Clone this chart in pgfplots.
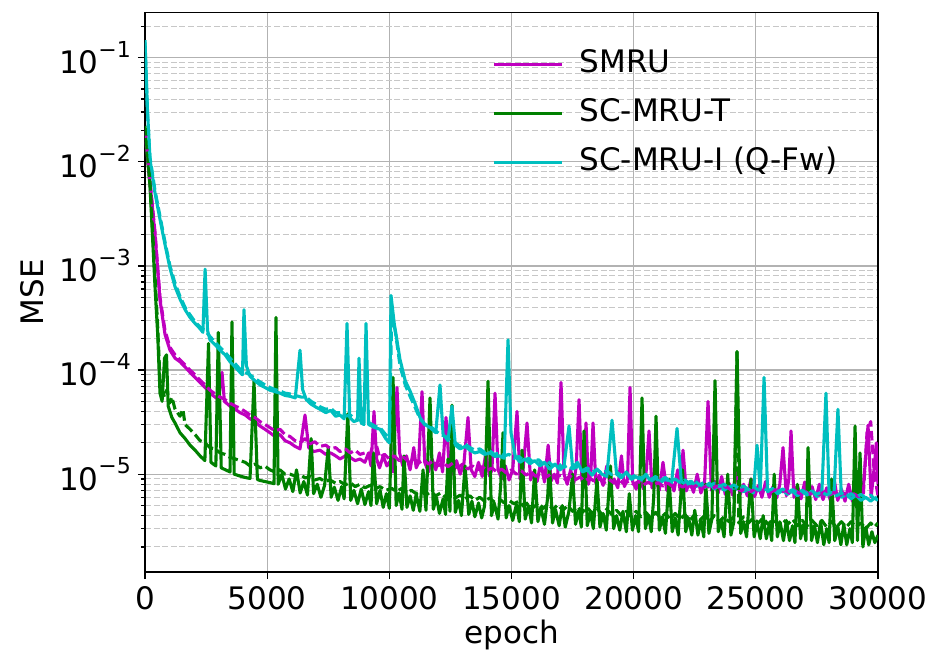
\documentclass[border=0pt]{standalone}
\usepackage{fontspec}
\setmainfont{DejaVu Sans}
\usepackage{pgfplots}
\pgfplotsset{compat=1.18}
\definecolor{mplm}{rgb}{0.75,0,0.75}
\definecolor{mplg}{rgb}{0,0.5,0}
\definecolor{mplc}{rgb}{0,0.75,0.75}
\newcommand\fs{\fontsize{15.5}{18}\selectfont}
\newcommand\tenexp[1]{10\raisebox{0.95ex}{\fontsize{11}{11}\selectfont −#1}}
\begin{document}
\begin{tikzpicture}
\useasboundingbox (-72.5pt,-39.5pt) rectangle (392.5pt,286pt);
\begin{axis}[
  at={(0,0)}, anchor=south west,
  scale only axis, width=366.5pt, height=279.65pt,
  ymode=log, xmin=0, xmax=30000, ymin=1.15e-6, ymax=0.27,
  scaled x ticks=false,
  xtick={0,5000,10000,15000,20000,25000,30000},
  xticklabels={0,5000,10000,15000,20000,25000,30000},
  ytick={1e-5,1e-4,1e-3,1e-2,1e-1},
  yticklabels={\tenexp{5},\tenexp{4},\tenexp{3},\tenexp{2},\tenexp{1}},
  minor ytick={2e-6,3e-6,4e-6,5e-6,6e-6,7e-6,8e-6,9e-6,2e-5,3e-5,4e-5,5e-5,6e-5,7e-5,8e-5,9e-5,2e-4,3e-4,4e-4,5e-4,6e-4,7e-4,8e-4,9e-4,2e-3,3e-3,4e-3,5e-3,6e-3,7e-3,8e-3,9e-3,2e-2,3e-2,4e-2,5e-2,6e-2,7e-2,8e-2,9e-2,2e-1},
  tick align=outside, tick pos=left,
  major tick length=3.5pt, minor tick length=2pt,
  every tick/.style={black, line width=0.6pt},
  xmajorgrids, ymajorgrids, yminorgrids,
  major grid style={line width=0.6pt, color=black!30},
  minor grid style={line width=0.5pt, color=black!22, dash pattern=on 3pt off 1.3pt},
  axis line style={line width=0.8pt, black},
  tick label style={font=\fs},
  label style={font=\fs},
  xlabel={epoch}, ylabel={MSE},
  xlabel style={at={(axis description cs:0.5,-0.127)}, anchor=base},
  ylabel style={at={(axis description cs:-0.154,0.5)}, anchor=center, rotate=0},
  legend style={draw=none, fill=none, at={(axis description cs:0.465,0.947)}, anchor=north west,
    font=\fs, row sep=6.5pt, nodes={text height=11pt, text depth=3pt, inner sep=2pt},
    /tikz/every odd column/.append style={column sep=6pt}},
  legend cell align=left,
  legend image code/.code={\draw[#1, line width=1.7pt, solid] (0pt,0pt) -- (34pt,0pt);},
  every axis plot/.append style={line width=1.55pt, line join=round},
]
% SMRU solid
\addplot[mplm] coordinates {(0,2.0e-2)(205,6.3e-3)(410,2.0e-3)(614,4.7e-4)(819,2.2e-4)(1023,1.55e-4)(1230,1.3e-4)(1433,1.2e-4)(1640,1.07e-4)(1842,9.5e-5)(2050,8.5e-5)(2251,7.6e-5)(2460,6.8e-5)(2660,6.0e-5)(2870,5.5e-5)(3000,5.2e-5)(3152,9.5e-5)(3250,5.0e-5)(3479,4.5e-5)(3700,4.2e-5)(3888,3.9e-5)(4100,3.7e-5)(4298,3.4e-5)(4500,3.2e-5)(4707,2.9e-5)(4910,2.7e-5)(5116,2.5e-5)(5320,2.3e-5)(5526,2.4e-5)(5730,2.1e-5)(5935,2.0e-5)(6140,1.85e-5)(6344,1.75e-5)(6549,3.7e-5)(6700,1.8e-5)(6900,1.65e-5)(7163,1.7e-5)(7400,1.55e-5)(7600,1.6e-5)(7800,1.5e-5)(7981,1.4e-5)(8200,1.5e-5)(8390,1.45e-5)(8600,1.35e-5)(8800,1.4e-5)(9000,1.3e-5)(9150,1.6e-5)(9250,1.2e-5)(9373,4.0e-5)(9480,1.4e-5)(9600,1.15e-5)(9750,1.5e-5)(9900,1.2e-5)(10050,1.35e-5)(10150,1.05e-5)(10314,6.8e-5)(10420,1.6e-5)(10550,1.2e-5)(10700,1.5e-5)(10850,1.1e-5)(11000,1.8e-5)(11100,1.15e-5)(11200,1.3e-5)(11338,6.2e-5)(11450,1.3e-5)(11600,1.05e-5)(11750,1.4e-5)(11900,1.1e-5)(12050,1.6e-5)(12180,1.05e-5)(12320,3.5e-5)(12450,1.2e-5)(12600,1.0e-5)(12750,1.35e-5)(12900,1.0e-5)(13050,1.25e-5)(13220,3.5e-5)(13350,1.1e-5)(13500,9.5e-6)(13650,1.3e-5)(13800,9.5e-6)(13950,1.6e-5)(14100,9.6e-6)(14200,1.1e-5)(14326,6.0e-5)(14450,1.1e-5)(14600,9.0e-6)(14750,1.2e-5)(14900,8.8e-6)(15050,1.1e-5)(15226,4.0e-5)(15350,9.0e-6)(15480,1.15e-5)(15635,3.1e-5)(15780,8.8e-6)(15900,1.05e-5)(16050,8.5e-6)(16200,1.3e-5)(16350,8.4e-6)(16500,1.9e-5)(16620,8.6e-6)(16750,1.0e-5)(16880,8.2e-6)(17027,7.6e-5)(17150,1.0e-5)(17280,8.0e-6)(17420,1.1e-5)(17550,8.2e-6)(17650,1.2e-5)(17764,5.2e-5)(17880,8.6e-6)(17960,1.0e-5)(18050,3.1e-5)(18150,8.0e-6)(18250,1.05e-5)(18337,3.1e-5)(18450,8.2e-6)(18600,9.8e-6)(18750,7.8e-6)(18900,1.2e-5)(19050,7.6e-6)(19200,9.0e-6)(19350,7.4e-6)(19500,1.5e-5)(19620,7.6e-6)(19750,9.0e-6)(19851,6.8e-5)(19960,8.5e-6)(20100,7.2e-6)(20250,9.5e-6)(20400,7.2e-6)(20520,1.1e-5)(20629,2.6e-5)(20750,7.4e-6)(20900,8.8e-6)(21050,7.0e-6)(21200,1.3e-5)(21350,7.0e-6)(21500,8.8e-6)(21650,6.9e-6)(21800,1.1e-5)(21900,7.0e-6)(22020,1.7e-5)(22150,6.9e-6)(22300,8.5e-6)(22450,6.7e-6)(22600,1.0e-5)(22750,6.6e-6)(22900,8.0e-6)(23044,5.0e-5)(23180,7.0e-6)(23300,8.6e-6)(23450,6.5e-6)(23600,9.5e-6)(23750,6.4e-6)(23900,8.2e-6)(24050,6.3e-6)(24200,1.1e-5)(24350,6.3e-6)(24500,8.0e-6)(24650,6.2e-6)(24800,9.0e-6)(24950,6.1e-6)(25100,7.8e-6)(25250,6.0e-6)(25400,8.5e-6)(25550,6.0e-6)(25700,7.6e-6)(25850,5.9e-6)(25980,8.0e-6)(26113,1.8e-5)(26250,6.2e-6)(26350,9.0e-6)(26441,2.6e-5)(26560,6.0e-6)(26700,7.8e-6)(26850,5.8e-6)(27000,8.4e-6)(27150,5.8e-6)(27300,7.6e-6)(27450,5.7e-6)(27600,8.0e-6)(27750,5.7e-6)(27900,7.4e-6)(28050,5.6e-6)(28200,9.0e-6)(28350,5.6e-6)(28500,7.2e-6)(28650,5.5e-6)(28800,8.0e-6)(28950,5.5e-6)(29100,7.0e-6)(29250,5.4e-6)(29400,7.5e-6)(29592,2.95e-5)(29720,6.0e-6)(29850,1.2e-5)(29930,2.0e-5)(30000,8.0e-6)};
\addlegendentry{SMRU}
% SC-MRU-T solid
\addplot[mplg] coordinates {(0,2.0e-2)(205,5.8e-3)(410,6.3e-4)(520,2.2e-4)(614,6.0e-5)(700,5.0e-5)(800,1.3e-4)(880,1.4e-4)(950,4.5e-5)(1100,3.5e-5)(1230,3.1e-5)(1433,2.5e-5)(1640,2.2e-5)(1842,1.9e-5)(2050,1.7e-5)(2251,1.5e-5)(2450,1.35e-5)(2600,1.8e-4)(2700,1.3e-5)(2900,1.2e-5)(3000,2.3e-4)(3120,1.15e-5)(3300,1.1e-5)(3479,1.05e-5)(3560,2.9e-4)(3650,1.0e-5)(3888,9.6e-6)(4100,9.3e-6)(4298,9.1e-6)(4461,7.8e-5)(4600,8.9e-6)(4707,8.7e-6)(4910,8.5e-6)(5116,8.3e-6)(5280,8.1e-6)(5360,3.2e-4)(5450,8.0e-6)(5600,1.0e-5)(5750,7.2e-6)(5900,9.0e-6)(6050,6.8e-6)(6200,1.1e-5)(6350,6.6e-6)(6500,8.5e-6)(6650,6.3e-6)(6800,2.2e-5)(6900,6.5e-6)(7050,8.0e-6)(7200,6.0e-6)(7350,7.8e-6)(7500,1.8e-5)(7620,6.0e-6)(7750,7.5e-6)(7900,5.6e-6)(8050,7.6e-6)(8150,5.8e-6)(8300,3.8e-5)(8420,5.6e-6)(8550,7.0e-6)(8700,5.2e-6)(8850,7.2e-6)(9000,5.1e-6)(9150,6.8e-6)(9250,5.0e-6)(9350,1.6e-5)(9480,5.2e-6)(9620,7.0e-6)(9750,4.8e-6)(9880,6.5e-6)(10000,4.7e-6)(10151,8.5e-5)(10280,5.0e-6)(10400,6.6e-6)(10520,4.6e-6)(10600,1.5e-5)(10720,4.8e-6)(10850,6.2e-6)(10980,4.5e-6)(11100,6.4e-6)(11250,4.4e-6)(11380,1.1e-5)(11500,4.5e-6)(11665,5.4e-5)(11800,4.6e-6)(11930,6.0e-6)(12050,4.2e-6)(12200,5.8e-6)(12300,4.1e-6)(12400,1.4e-5)(12480,4.4e-6)(12565,4.6e-5)(12700,4.3e-6)(12830,5.6e-6)(12950,4.0e-6)(13100,1.2e-5)(13250,4.1e-6)(13380,5.5e-6)(13500,3.9e-6)(13650,5.3e-6)(13780,3.8e-6)(13900,5.0e-6)(14039,7.8e-5)(14180,4.0e-6)(14300,5.2e-6)(14450,3.7e-6)(14560,8.0e-6)(14653,2.5e-5)(14780,3.8e-6)(14900,5.0e-6)(15050,3.6e-6)(15200,5.1e-6)(15320,3.5e-6)(15431,1.7e-5)(15560,3.7e-6)(15700,5.0e-6)(15820,3.4e-6)(15950,1.1e-5)(16080,3.5e-6)(16200,4.8e-6)(16350,3.3e-6)(16480,6.0e-6)(16550,1.3e-5)(16680,3.4e-6)(16800,4.6e-6)(16950,3.2e-6)(17080,5.0e-6)(17200,3.1e-6)(17350,4.4e-6)(17500,1.0e-5)(17620,3.3e-6)(17750,4.5e-6)(17860,3.1e-6)(17969,2.6e-5)(18100,3.2e-6)(18230,4.3e-6)(18350,3.0e-6)(18500,9.0e-6)(18620,3.1e-6)(18750,4.2e-6)(18880,2.9e-6)(19050,1.2e-5)(19180,3.0e-6)(19300,4.0e-6)(19430,2.9e-6)(19560,4.4e-6)(19700,2.8e-6)(19820,6.5e-6)(19950,2.9e-6)(20080,4.0e-6)(20200,2.8e-6)(20342,5.4e-5)(20480,3.0e-6)(20600,4.0e-6)(20720,2.8e-6)(20820,6.0e-6)(20915,3.6e-5)(21050,2.9e-6)(21180,3.9e-6)(21300,2.7e-6)(21450,9.0e-6)(21580,2.8e-6)(21700,3.8e-6)(21820,2.6e-6)(22000,1.1e-5)(22130,2.8e-6)(22250,3.8e-6)(22380,2.6e-6)(22500,4.5e-6)(22630,2.6e-6)(22750,3.6e-6)(22870,2.5e-6)(22950,8.0e-6)(23080,2.7e-6)(23200,3.7e-6)(23330,7.9e-5)(23460,2.8e-6)(23580,3.6e-6)(23700,2.5e-6)(23850,1.0e-5)(23980,2.6e-6)(24100,3.5e-6)(24231,1.5e-4)(24380,2.7e-6)(24500,3.5e-6)(24620,2.5e-6)(24800,9.0e-6)(24930,2.5e-6)(25050,3.4e-6)(25180,2.4e-6)(25300,4.0e-6)(25430,2.4e-6)(25550,3.3e-6)(25650,2.3e-6)(25750,1.0e-5)(25880,2.5e-6)(26000,3.4e-6)(26130,2.3e-6)(26250,3.6e-6)(26380,2.3e-6)(26500,3.2e-6)(26600,2.2e-6)(26700,8.0e-6)(26830,2.4e-6)(26950,3.3e-6)(27050,2.3e-6)(27137,1.8e-5)(27280,2.3e-6)(27400,3.2e-6)(27520,2.2e-6)(27650,3.5e-6)(27780,2.1e-6)(27900,3.0e-6)(28000,2.2e-6)(28100,9.0e-6)(28230,2.3e-6)(28350,3.2e-6)(28480,2.1e-6)(28600,3.3e-6)(28720,2.1e-6)(28850,3.0e-6)(28950,2.2e-6)(29061,2.9e-5)(29160,2.3e-6)(29265,1.6e-5)(29380,2.0e-6)(29500,3.1e-6)(29620,2.1e-6)(29750,2.8e-6)(29870,2.2e-6)(30000,2.6e-6)};
\addlegendentry{SC-MRU-T}
% SC-MRU-I solid
\addplot[mplc] coordinates {(0,1.47e-1)(100,3.2e-2)(205,1.05e-2)(410,5.0e-3)(614,2.8e-3)(819,1.6e-3)(1023,9.5e-4)(1230,6.3e-4)(1433,4.8e-4)(1640,3.8e-4)(1842,3.2e-4)(2050,2.8e-4)(2251,2.5e-4)(2370,2.3e-4)(2460,9.3e-4)(2560,2.4e-4)(2660,1.95e-4)(2870,1.75e-4)(3070,1.55e-4)(3280,1.4e-4)(3480,1.2e-4)(3690,1.07e-4)(3888,9.5e-5)(3990,9.0e-5)(4050,3.8e-4)(4150,1.1e-4)(4298,8.7e-5)(4500,7.9e-5)(4707,7.2e-5)(4910,6.8e-5)(5116,6.4e-5)(5320,6.2e-5)(5526,6.0e-5)(5730,5.7e-5)(5935,5.6e-5)(6150,5.4e-5)(6344,1.55e-4)(6450,6.5e-5)(6600,5.2e-5)(6800,4.7e-5)(7000,4.4e-5)(7163,4.2e-5)(7400,3.9e-5)(7600,4.1e-5)(7800,3.6e-5)(7981,3.7e-5)(8150,3.4e-5)(8268,2.8e-4)(8380,3.5e-5)(8550,3.2e-5)(8700,3.3e-5)(8759,1.3e-4)(8850,3.1e-5)(8960,3.0e-5)(9046,2.8e-4)(9150,3.0e-5)(9400,2.8e-5)(9619,2.7e-5)(9850,2.2e-5)(10000,2.0e-5)(10069,5.2e-4)(10200,2.8e-4)(10437,1.26e-4)(10650,7.9e-5)(10846,6.3e-5)(11050,4.8e-5)(11256,3.5e-5)(11450,3.0e-5)(11665,2.8e-5)(11900,2.5e-5)(12074,7.2e-5)(12200,2.4e-5)(12400,2.1e-5)(12565,4.5e-5)(12700,1.9e-5)(12893,1.75e-5)(13100,1.85e-5)(13300,1.7e-5)(13500,1.6e-5)(13712,1.65e-5)(13900,1.55e-5)(14120,1.6e-5)(14325,1.48e-5)(14500,1.5e-5)(14700,1.42e-5)(14858,1.95e-4)(14980,2.5e-5)(15150,1.5e-5)(15349,1.3e-5)(15550,1.4e-5)(15760,1.26e-5)(15950,1.35e-5)(16167,1.2e-5)(16350,1.3e-5)(16570,1.12e-5)(16780,1.25e-5)(16986,1.1e-5)(17150,1.2e-5)(17354,2.9e-5)(17500,1.15e-5)(17700,1.3e-5)(17900,1.05e-5)(18100,1.1e-5)(18300,9.8e-6)(18500,1.12e-5)(18700,1.0e-5)(18900,9.5e-6)(19114,3.3e-5)(19300,1.0e-5)(19500,9.2e-6)(19700,1.05e-5)(19900,8.9e-6)(20100,9.5e-6)(20300,8.7e-6)(20500,1.0e-5)(20700,8.5e-6)(20900,9.2e-6)(21100,8.3e-6)(21300,9.0e-6)(21550,8.2e-6)(21775,2.75e-5)(21950,8.5e-6)(22150,7.9e-6)(22350,8.6e-6)(22550,7.6e-6)(22716,8.0e-6)(22900,7.4e-6)(23100,8.2e-6)(23300,7.2e-6)(23500,7.8e-6)(23700,7.0e-6)(23900,7.6e-6)(24100,6.9e-6)(24300,7.5e-6)(24500,6.8e-6)(24700,7.2e-6)(24900,6.6e-6)(25049,1.9e-5)(25180,7.0e-6)(25336,8.5e-5)(25480,6.8e-6)(25700,7.2e-6)(25900,6.5e-6)(26100,7.0e-6)(26300,6.4e-6)(26500,6.9e-6)(26700,6.2e-6)(26900,6.8e-6)(27100,6.3e-6)(27300,6.9e-6)(27500,6.1e-6)(27700,6.5e-6)(27870,6.0e-5)(28000,6.3e-6)(28200,6.6e-6)(28360,4.2e-5)(28500,6.0e-6)(28700,6.4e-6)(28900,5.8e-6)(29100,6.3e-6)(29300,5.6e-6)(29500,6.0e-6)(29700,5.5e-6)(29850,5.9e-6)(30000,5.6e-6)};
\addlegendentry{SC-MRU-I (Q-Fw)}
% dashed companions
\addplot[mplm, dash pattern=on 4.8pt off 2.1pt, forget plot] coordinates {(0,2.1e-2)(205,6.5e-3)(410,2.1e-3)(614,5.0e-4)(819,2.4e-4)(1023,1.65e-4)(1230,1.4e-4)(1433,1.25e-4)(1640,1.12e-4)(1842,1.0e-4)(2050,9.0e-5)(2251,8.0e-5)(2460,7.2e-5)(2660,6.4e-5)(2870,5.9e-5)(3070,5.5e-5)(3280,5.2e-5)(3479,4.8e-5)(3700,4.5e-5)(3888,4.3e-5)(4100,4.0e-5)(4298,3.7e-5)(4500,3.5e-5)(4707,3.2e-5)(4910,3.0e-5)(5116,2.8e-5)(5320,2.6e-5)(5526,2.7e-5)(5730,2.4e-5)(5935,2.3e-5)(6140,2.1e-5)(6344,2.0e-5)(6549,2.2e-5)(6750,1.95e-5)(6950,2.05e-5)(7163,1.85e-5)(7400,1.9e-5)(7600,1.75e-5)(7800,1.8e-5)(7981,1.65e-5)(8200,1.75e-5)(8400,1.6e-5)(8600,1.7e-5)(8800,1.55e-5)(9000,1.6e-5)(9200,1.5e-5)(9400,2.2e-5)(9600,1.45e-5)(9800,1.55e-5)(10000,1.4e-5)(10200,1.5e-5)(10400,1.35e-5)(10600,1.45e-5)(10800,1.3e-5)(11000,1.4e-5)(11200,1.28e-5)(11400,1.38e-5)(11600,1.25e-5)(11800,1.35e-5)(12000,1.2e-5)(12200,1.3e-5)(12400,1.18e-5)(12600,1.28e-5)(12800,1.15e-5)(13000,1.25e-5)(13200,1.12e-5)(13400,1.2e-5)(13600,1.1e-5)(13800,1.18e-5)(14000,1.08e-5)(14200,1.15e-5)(14400,1.05e-5)(14600,1.12e-5)(14800,1.02e-5)(15000,1.1e-5)(15200,1.0e-5)(15400,1.08e-5)(15600,9.8e-6)(15800,1.05e-5)(16000,9.5e-6)(16200,1.03e-5)(16400,9.3e-6)(16600,1.0e-5)(16800,9.1e-6)(17000,9.8e-6)(17200,8.9e-6)(17400,9.6e-6)(17600,8.8e-6)(17800,9.4e-6)(18000,8.6e-6)(18200,9.2e-6)(18400,8.5e-6)(18600,9.0e-6)(18800,8.3e-6)(19000,8.9e-6)(19200,8.2e-6)(19400,8.8e-6)(19600,8.1e-6)(19800,8.6e-6)(20000,8.0e-6)(20200,8.5e-6)(20400,7.9e-6)(20600,8.4e-6)(20800,7.8e-6)(21000,8.3e-6)(21200,7.7e-6)(21400,8.2e-6)(21600,7.6e-6)(21800,8.1e-6)(22000,7.5e-6)(22200,8.0e-6)(22400,7.4e-6)(22600,7.9e-6)(22800,7.3e-6)(23000,7.8e-6)(23200,7.2e-6)(23400,7.7e-6)(23600,7.1e-6)(23800,7.6e-6)(24000,7.0e-6)(24200,7.5e-6)(24400,6.9e-6)(24600,7.4e-6)(24800,6.8e-6)(25000,7.3e-6)(25200,6.8e-6)(25400,7.2e-6)(25600,6.7e-6)(25800,7.1e-6)(26000,6.6e-6)(26200,7.0e-6)(26400,6.5e-6)(26600,7.0e-6)(26800,6.5e-6)(27000,6.9e-6)(27200,6.4e-6)(27400,6.8e-6)(27600,6.3e-6)(27800,6.8e-6)(28000,6.3e-6)(28200,6.7e-6)(28400,6.2e-6)(28600,6.6e-6)(28800,6.1e-6)(29000,6.5e-6)(29200,6.1e-6)(29400,6.4e-6)(29550,2.5e-5)(29700,3.2e-5)(29850,1.0e-5)(30000,6.2e-6)};
\addplot[mplg, dash pattern=on 4.8pt off 2.1pt, forget plot] coordinates {(0,2.2e-2)(205,6.5e-3)(410,8e-4)(520,2.6e-4)(614,8.0e-5)(700,6.5e-5)(800,5.5e-5)(900,6.5e-5)(1000,4.8e-5)(1100,5.5e-5)(1230,4.2e-5)(1433,3.6e-5)(1550,4.2e-5)(1640,3.0e-5)(1842,2.7e-5)(2050,2.4e-5)(2251,2.1e-5)(2450,2.0e-5)(2660,1.8e-5)(2870,1.75e-5)(3070,1.6e-5)(3280,1.55e-5)(3479,1.45e-5)(3700,1.4e-5)(3888,1.35e-5)(4100,1.3e-5)(4300,1.2e-5)(4500,1.25e-5)(4707,1.15e-5)(4900,1.2e-5)(5116,1.1e-5)(5320,1.05e-5)(5526,1.1e-5)(5730,1.0e-5)(5935,1.0e-5)(6150,9.6e-6)(6344,1.0e-5)(6550,9.2e-6)(6750,9.5e-6)(6950,8.8e-6)(7163,9.1e-6)(7350,8.5e-6)(7570,8.8e-6)(7800,8.2e-6)(7981,8.5e-6)(8200,7.9e-6)(8400,8.3e-6)(8600,7.6e-6)(8800,8.0e-6)(9000,7.4e-6)(9200,7.8e-6)(9400,7.2e-6)(9619,7.6e-6)(9850,7.0e-6)(10100,7.3e-6)(10300,6.8e-6)(10500,7.3e-6)(10700,6.6e-6)(10900,7.0e-6)(11100,6.5e-6)(11300,6.9e-6)(11500,6.3e-6)(11700,6.8e-6)(11900,6.2e-6)(12100,6.6e-6)(12300,6.0e-6)(12500,6.5e-6)(12700,5.9e-6)(12900,6.3e-6)(13100,5.8e-6)(13300,6.2e-6)(13500,5.6e-6)(13700,6.0e-6)(13900,5.5e-6)(14100,5.9e-6)(14300,5.4e-6)(14500,5.8e-6)(14700,5.3e-6)(14900,5.6e-6)(15100,5.2e-6)(15300,5.5e-6)(15500,4.9e-6)(15700,5.4e-6)(15900,4.8e-6)(16100,5.3e-6)(16300,4.7e-6)(16500,5.2e-6)(16700,4.6e-6)(16900,5.1e-6)(17100,4.5e-6)(17300,5.0e-6)(17500,4.4e-6)(17700,4.9e-6)(17900,4.3e-6)(18100,4.8e-6)(18300,4.2e-6)(18500,4.7e-6)(18700,4.1e-6)(18900,4.6e-6)(19100,4.1e-6)(19300,4.5e-6)(19500,4.0e-6)(19700,4.4e-6)(19900,3.9e-6)(20100,4.4e-6)(20300,3.9e-6)(20500,4.3e-6)(20700,3.8e-6)(20900,4.3e-6)(21100,3.8e-6)(21300,4.2e-6)(21500,3.7e-6)(21700,4.2e-6)(21900,3.7e-6)(22100,4.1e-6)(22300,3.6e-6)(22500,4.1e-6)(22700,3.6e-6)(22900,4.0e-6)(23100,3.5e-6)(23300,4.0e-6)(23500,3.5e-6)(23700,3.9e-6)(23900,3.5e-6)(24100,3.9e-6)(24231,1.5e-4)(24300,3.4e-6)(24500,3.9e-6)(24700,3.4e-6)(24900,3.8e-6)(25100,3.4e-6)(25300,3.8e-6)(25500,3.3e-6)(25700,3.7e-6)(25900,3.3e-6)(26100,3.7e-6)(26300,3.3e-6)(26500,3.7e-6)(26700,3.2e-6)(26900,3.6e-6)(27100,3.2e-6)(27300,3.6e-6)(27500,3.2e-6)(27700,3.6e-6)(27900,3.1e-6)(28100,3.5e-6)(28300,3.1e-6)(28500,3.5e-6)(28700,3.1e-6)(28900,3.5e-6)(29100,3.1e-6)(29300,3.4e-6)(29500,3.0e-6)(29700,3.4e-6)(29850,3.1e-6)(30000,3.4e-6)};
\addplot[mplc, dash pattern=on 4.8pt off 2.1pt, forget plot] coordinates {(0,1.4e-1)(100,3.0e-2)(205,1.1e-2)(410,5.3e-3)(614,3.0e-3)(819,1.7e-3)(1023,1.0e-3)(1230,6.8e-4)(1433,5.1e-4)(1640,4.0e-4)(1842,3.4e-4)(2050,2.9e-4)(2251,2.6e-4)(2450,2.4e-4)(2660,2.1e-4)(2870,1.85e-4)(3070,1.65e-4)(3280,1.48e-4)(3480,1.3e-4)(3690,1.15e-4)(3888,1.02e-4)(4100,9.5e-5)(4298,9.0e-5)(4500,8.3e-5)(4707,7.7e-5)(4910,7.2e-5)(5116,6.8e-5)(5320,6.5e-5)(5526,6.3e-5)(5730,6.0e-5)(5935,5.9e-5)(6150,5.7e-5)(6400,5.5e-5)(6600,5.5e-5)(6800,5.0e-5)(7000,4.7e-5)(7200,4.4e-5)(7400,4.2e-5)(7600,4.3e-5)(7800,3.9e-5)(8000,3.9e-5)(8200,3.6e-5)(8400,3.7e-5)(8600,3.4e-5)(8800,3.3e-5)(9000,3.2e-5)(9200,3.1e-5)(9400,2.9e-5)(9619,2.8e-5)(9850,2.4e-5)(10000,2.2e-5)(10100,3.5e-4)(10250,2.3e-4)(10437,1.1e-4)(10650,7.2e-5)(10846,5.6e-5)(11050,4.4e-5)(11256,3.4e-5)(11450,3.0e-5)(11665,2.9e-5)(11900,2.6e-5)(12100,2.4e-5)(12300,2.3e-5)(12500,2.1e-5)(12700,2.0e-5)(12900,1.85e-5)(13100,1.95e-5)(13300,1.8e-5)(13500,1.7e-5)(13700,1.75e-5)(13900,1.62e-5)(14100,1.68e-5)(14300,1.55e-5)(14500,1.6e-5)(14700,1.5e-5)(14900,1.55e-5)(15100,1.42e-5)(15300,1.48e-5)(15500,1.35e-5)(15700,1.42e-5)(15900,1.3e-5)(16100,1.38e-5)(16300,1.25e-5)(16500,1.32e-5)(16700,1.2e-5)(16900,1.28e-5)(17100,1.15e-5)(17300,1.22e-5)(17500,1.12e-5)(17700,1.18e-5)(17900,1.08e-5)(18100,1.15e-5)(18300,1.05e-5)(18500,1.1e-5)(18700,1.02e-5)(18900,1.08e-5)(19100,9.9e-6)(19300,1.05e-5)(19500,9.6e-6)(19700,1.02e-5)(19900,9.3e-6)(20100,9.9e-6)(20300,9.1e-6)(20500,9.7e-6)(20700,8.9e-6)(20900,9.5e-6)(21100,8.7e-6)(21300,9.3e-6)(21500,8.5e-6)(21700,9.0e-6)(21900,8.3e-6)(22100,8.8e-6)(22300,8.1e-6)(22500,8.6e-6)(22700,7.9e-6)(22900,8.4e-6)(23100,7.7e-6)(23300,8.2e-6)(23500,7.6e-6)(23700,8.0e-6)(23900,7.4e-6)(24100,7.9e-6)(24300,7.3e-6)(24500,7.7e-6)(24700,7.1e-6)(24900,7.6e-6)(25100,7.0e-6)(25300,7.4e-6)(25500,6.9e-6)(25700,7.3e-6)(25900,6.8e-6)(26100,7.2e-6)(26300,6.7e-6)(26500,7.1e-6)(26700,6.6e-6)(26900,7.0e-6)(27100,6.5e-6)(27300,6.9e-6)(27500,6.4e-6)(27700,6.8e-6)(27900,6.3e-6)(28100,6.7e-6)(28300,6.2e-6)(28500,6.6e-6)(28700,6.1e-6)(28900,6.5e-6)(29100,6.0e-6)(29300,6.4e-6)(29500,5.9e-6)(29700,6.3e-6)(29850,5.8e-6)(30000,6.1e-6)};
\end{axis}
\end{tikzpicture}
\end{document}
